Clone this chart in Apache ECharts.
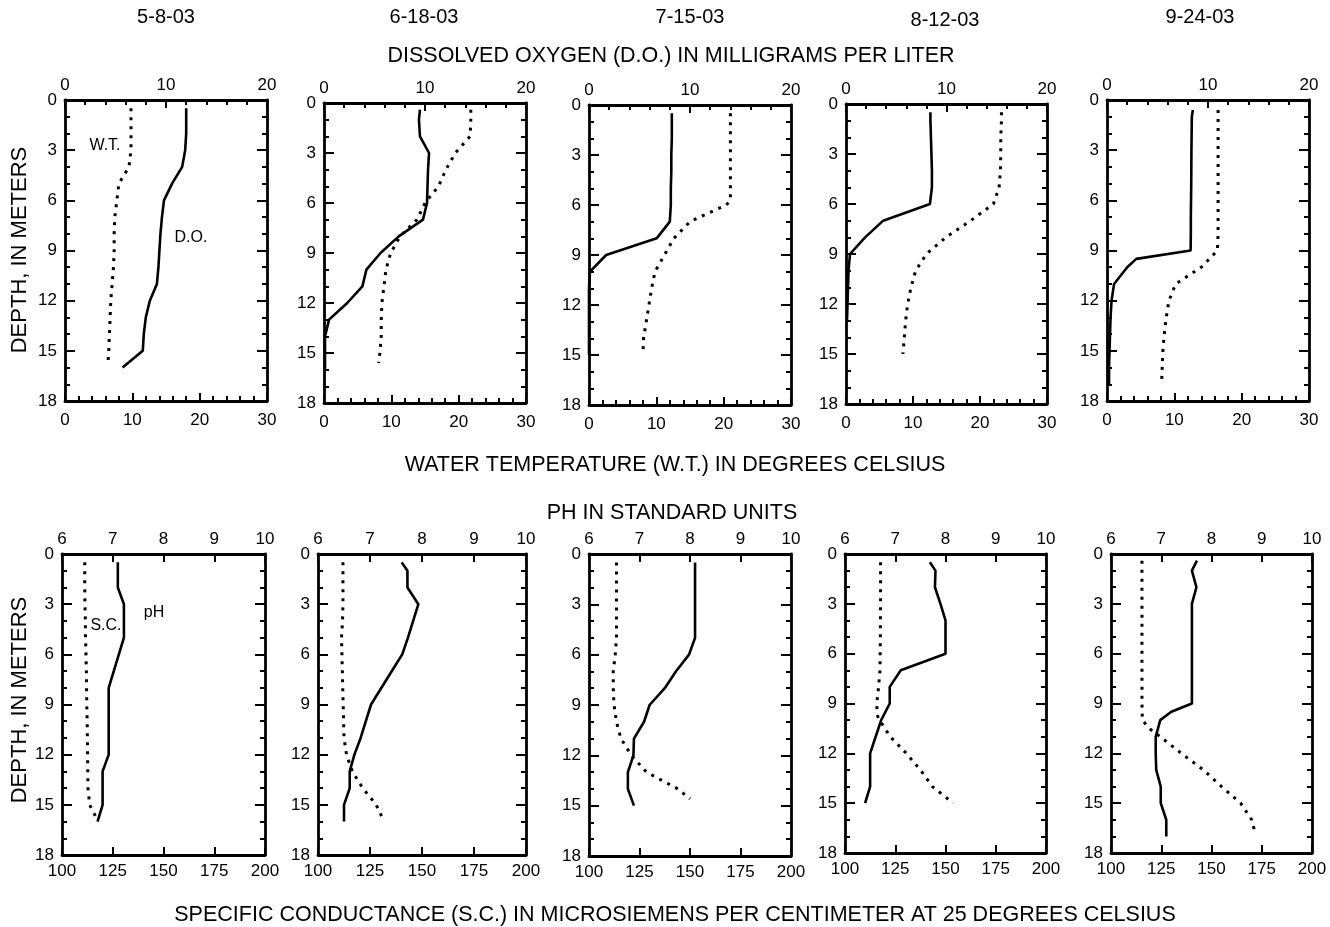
<!DOCTYPE html>
<html>
<head>
<meta charset="utf-8">
<script src="https://cdn.jsdelivr.net/npm/echarts@6/dist/echarts.min.js"></script>
<style>
html,body{margin:0;padding:0;background:#fff;}
#chart{width:1330px;height:927px;}
</style>
</head>
<body>
<div id="chart"></div>
<script>
// ---------- DATA ----------
const dates = ['5-8-03', '6-18-03', '7-15-03', '8-12-03', '9-24-03'];

// Dissolved oxygen (mg/L) : [depth m, value]
const DO_0508 = [[0.5,12],[1,12],[2,12],[3,11.9],[4,11.6],[5,10.6],[6,9.8],[7,9.6],[8,9.45],[9,9.35],[10,9.25],[11,9.1],[12,8.4],[13,8.0],[14,7.8],[15,7.7],[16,5.7]];
const DO_0618 = [[0.4,9.5],[1,9.4],[2,9.5],[3,10.4],[4,10.3],[5,10.25],[6,10.2],[7,9.8],[8,7.4],[9,5.6],[10,4.2],[11,3.8],[12,2.3],[13,0.5],[14,0.1],[15,0.1],[16,0.1]];
const DO_0715 = [[0.5,8.2],[1,8.2],[2,8.2],[3,8.15],[4,8.15],[5,8.1],[6,8.1],[7,8.0],[8,6.7],[9,1.7],[10,0.1],[11,0],[12,0],[13,0],[14,0],[15,0]];
const DO_0812 = [[0.5,8.4],[1,8.4],[2,8.45],[3,8.5],[4,8.55],[5,8.55],[6,8.35],[7,3.7],[8,1.9],[9,0.4],[10,0.25],[11,0.2],[12,0.15],[13,0.1]];
const DO_0924 = [[0.6,8.5],[1,8.4],[2,8.38],[3,8.36],[4,8.35],[5,8.34],[6,8.32],[7,8.3],[8,8.3],[9,8.28],[9.5,2.9],[10,2.0],[11,0.7],[12,0.45],[13,0.35],[14,0.3],[15,0.25],[16,0.2],[17,0.2]];

// Water temperature (deg C) : [depth m, value]
const WT_0508 = [[0.5,9.8],[1,9.8],[2,9.8],[3,9.8],[4,9.5],[5,8.0],[6,7.7],[7,7.4],[8,7.3],[9,7.3],[10,7.2],[11,7.0],[12,6.8],[13,6.7],[14,6.6],[15,6.5],[15.6,6.4]];
const WT_0618 = [[0.4,21.8],[1,21.8],[2,21.7],[3,19.5],[4,18.1],[5,17.0],[6,15.0],[7,13.8],[8,11.3],[9,9.9],[10,9.2],[11,8.9],[12,8.6],[13,8.5],[14,8.5],[15,8.3],[15.6,8.1]];
const WT_0715 = [[0.5,21],[1,21],[2,21],[3,21],[4,21],[5,21],[5.7,21],[6,20.4],[7,15.0],[8,12.6],[9,11.2],[10,9.8],[11,9.3],[12,8.9],[13,8.5],[14,8.1],[15,8.0]];
const WT_0812 = [[0.5,23.2],[1,23.2],[2,23.1],[3,23.1],[4,23.05],[5,22.85],[6,22.0],[7,18.6],[8,14.9],[9,12.0],[10,10.4],[11,9.7],[12,9.2],[13,8.9],[14,8.7],[15,8.5]];
const WT_0924 = [[0.6,16.5],[1,16.5],[2,16.5],[3,16.5],[4,16.5],[5,16.5],[6,16.5],[7,16.5],[8,16.5],[9,16.4],[10,14.0],[11,10.2],[12,9.2],[13,8.8],[14,8.5],[15,8.3],[16,8.2],[17,8.1]];

// pH (standard units) : [depth m, value]
const PH_0508 = [[0.5,7.1],[1,7.1],[2,7.1],[3,7.22],[4,7.22],[5,7.22],[6,7.12],[7,7.02],[8,6.92],[9,6.92],[10,6.92],[11,6.92],[12,6.92],[13,6.8],[14,6.8],[15,6.8],[16,6.7]];
const PH_0618 = [[0.5,7.61],[1,7.72],[2,7.72],[3,7.93],[4,7.83],[5,7.73],[6,7.62],[7,7.42],[8,7.22],[9,7.02],[10,6.92],[11,6.82],[12,6.7],[13,6.61],[14,6.61],[15,6.5],[16,6.5]];
const PH_0715 = [[0.5,8.1],[1,8.1],[2,8.1],[3,8.1],[4,8.1],[5,8.1],[6,7.98],[7,7.72],[8,7.5],[9,7.2],[10,7.09],[11,6.89],[12,6.88],[13,6.77],[14,6.77],[15,6.89]];
const PH_0812 = [[0.5,7.69],[1,7.8],[2,7.79],[3,7.9],[4,8.0],[5,8.0],[6,8.0],[7,7.11],[8,6.89],[9,6.89],[10,6.72],[11,6.61],[12,6.5],[13,6.5],[14,6.5],[15,6.4]];
const PH_0924 = [[0.4,7.71],[1,7.61],[2,7.7],[3,7.61],[4,7.61],[5,7.61],[6,7.61],[7,7.61],[8,7.61],[9,7.61],[9.5,7.2],[10,6.98],[11,6.89],[12,6.89],[13,6.9],[14,6.99],[15,6.99],[16,7.1],[17,7.1]];

// Specific conductance (uS/cm) : [depth m, value]
const SC_0508 = [[0.5,111.2],[1,111.2],[2,111.2],[3,111.3],[4,111.5],[5,111.6],[6,111.8],[7,112],[8,112.1],[9,112.2],[10,112.4],[11,112.5],[12,112.6],[13,112.7],[14,112.8],[15,113.6],[15.8,117]];
const SC_0618 = [[0.5,112],[1,112],[2,112],[3,112],[4,111.8],[5,111.3],[6,111.5],[7,111.7],[8,111.9],[9,112.1],[10,112.3],[11,112.5],[12,113.7],[13,116.5],[14,121.5],[15,128],[15.8,131]];
const SC_0715 = [[0.5,113.6],[1,113.6],[2,113.6],[3,113.6],[4,113.6],[5,113.6],[6,113],[7,112],[8,112],[9,112.4],[10,113.6],[11,115.8],[12,121],[13,128.4],[14,144],[14.6,150]];
const SC_0812 = [[0.5,117.7],[1,117.7],[2,117.7],[3,117.7],[4,117.6],[5,117.6],[6,117.5],[7,117.4],[8,116.7],[9,115.8],[9.7,116],[10,117.2],[11,122.5],[12,130.5],[13,137.5],[14,143.5],[15,153.8]];
const SC_0924 = [[0.4,115.4],[1,115.4],[2,115.4],[3,115.4],[4,115.4],[5,115.4],[6,115.4],[7,115.4],[8,115.4],[9,115.4],[10,115.6],[10.5,119],[11,124.5],[12,135],[13,146],[14,155],[15,164.5],[16,170],[16.7,171.5]];

// Axis ranges [min, max, interval]
const depthRange = [0, 18, 3];
const doRange = [0, 20, 10];
const wtRange = [0, 30, 10];
const phRange = [6, 10, 1];
const scRange = [100, 200, 25];

const titles = {
  doT: 'DISSOLVED OXYGEN (D.O.) IN MILLIGRAMS PER LITER',
  wtT: 'WATER TEMPERATURE (W.T.) IN DEGREES CELSIUS',
  phT: 'PH IN STANDARD UNITS',
  scT: 'SPECIFIC CONDUCTANCE (S.C.) IN MICROSIEMENS PER CENTIMETER AT 25 DEGREES CELSIUS',
  depth: 'DEPTH, IN METERS'
};

const doSeries = [DO_0508, DO_0618, DO_0715, DO_0812, DO_0924];
const wtSeries = [WT_0508, WT_0618, WT_0715, WT_0812, WT_0924];
const phSeries = [PH_0508, PH_0618, PH_0715, PH_0812, PH_0924];
const scSeries = [SC_0508, SC_0618, SC_0715, SC_0812, SC_0924];

// ---------- LAYOUT ----------
const FONT = 'Liberation Sans, Arial, sans-serif';
const topGrids = [[65,100,202,301],[324,103,202,300],[589,105,202,300],[846,104,201,300],[1107,100,202,301]];
const botGrids = [[62,554,203,301],[318,554,208,301],[589,554,202,302],[845,554,201,299],[1111,554,201,299]];

const grid = [], xAxis = [], yAxis = [], series = [];

function lineAx(){ return {show:true,onZero:false,lineStyle:{color:'#000',width:2.8}}; }
function xAx(g, pos, r, minorSplit, margin){
  return {
    type:'value', gridIndex:g, position:pos, min:r[0], max:r[1], interval:r[2],
    axisLine:lineAx(),
    axisTick:{show:true,inside:true,length:8,lineStyle:{color:'#000',width:2}},
    minorTick:{show:minorSplit>0,splitNumber:minorSplit||5,length:5,lineStyle:{color:'#000',width:2}},
    axisLabel:{show:true,color:'#000',fontSize:17,fontFamily:FONT,margin:margin},
    splitLine:{show:false}, minorSplitLine:{show:false}
  };
}
function yAx(g, pos, showLabel){
  return {
    type:'value', gridIndex:g, position:pos, inverse:true,
    min:depthRange[0], max:depthRange[1], interval:depthRange[2],
    axisLine:lineAx(),
    axisTick:{show:true,inside:true,length:10,lineStyle:{color:'#000',width:2}},
    minorTick:{show:true,splitNumber:3,length:5,lineStyle:{color:'#000',width:2}},
    axisLabel:{show:showLabel,color:'#000',fontSize:17,fontFamily:FONT,margin:8},
    splitLine:{show:false}
  };
}
function toXY(arr){ return arr.map(p => [p[1], p[0]]); }

function addPanel(g, box, topR, botR, minor, botMargin, solidData, dotData){
  grid.push({left:box[0], top:box[1], width:box[2], height:box[3], containLabel:false});
  xAxis.push(xAx(g,'top',topR,minor,6));
  xAxis.push(xAx(g,'bottom',botR,minor,botMargin));
  yAxis.push(yAx(g,'left',true));
  yAxis.push(yAx(g,'right',false));
  series.push({type:'line', xAxisIndex:2*g, yAxisIndex:2*g, data:toXY(solidData),
    symbol:'none', silent:true, animation:false,
    lineStyle:{color:'#000',width:2.6,type:'solid'}});
  series.push({type:'line', xAxisIndex:2*g+1, yAxisIndex:2*g, data:toXY(dotData),
    symbol:'none', silent:true, animation:false,
    lineStyle:{color:'#000',width:3,type:[3,6],cap:'butt'}});
}

for (let i=0;i<5;i++) addPanel(i, topGrids[i], doRange, wtRange, 5, 11, doSeries[i], wtSeries[i]);
for (let i=0;i<5;i++) addPanel(5+i, botGrids[i], phRange, scRange, 0, 8, phSeries[i], scSeries[i]);

function txt(x, y, s, size, rot){
  return {type:'text', x:x, y:y, rotation:rot||0, silent:true,
    style:{text:s, fill:'#000', font: size+'px '+FONT, align:'center', verticalAlign:'middle'}};
}
const dateX = [166, 424, 690, 945, 1200];
const dateY = [17, 17, 17, 20, 17];
const graphic = [];
dates.forEach((d,i)=>graphic.push(txt(dateX[i], dateY[i], d, 20)));
graphic.push(txt(671, 56, titles.doT, 21.5));
graphic.push(txt(675, 465, titles.wtT, 21.5));
graphic.push(txt(672, 513, titles.phT, 21.5));
graphic.push(txt(675, 915, titles.scT, 21.5));
graphic.push(txt(20, 250, titles.depth, 22, Math.PI/2));
graphic.push(txt(20, 700, titles.depth, 22, Math.PI/2));
graphic.push(txt(105, 146, 'W.T.', 16));
graphic.push(txt(191, 238, 'D.O.', 16));
graphic.push(txt(154, 613, 'pH', 16));
graphic.push(txt(106, 626, 'S.C.', 16));

const chart = echarts.init(document.getElementById('chart'), null, {renderer:'canvas'});
chart.setOption({
  animation:false,
  backgroundColor:'#fff',
  grid, xAxis, yAxis, series, graphic
});
</script>
</body>
</html>
